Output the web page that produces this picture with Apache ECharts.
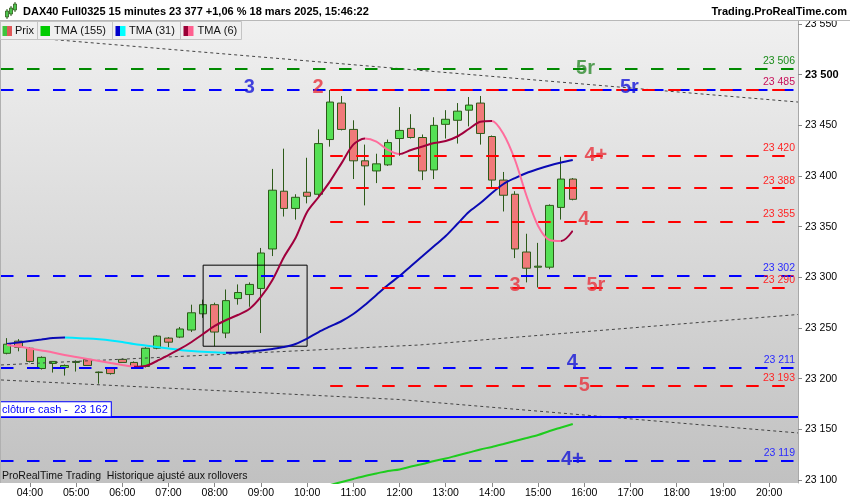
<!DOCTYPE html>
<html><head><meta charset="utf-8">
<script src="https://cdn.jsdelivr.net/npm/echarts@6/dist/echarts.min.js"></script>
<style>html,body{margin:0;padding:0;background:#fff}#c{width:850px;height:500px}</style>
</head><body><div id="c"></div>
<script>
const categories = ['03:30','03:45','04:00','04:15','04:30','04:45','05:00','05:15','05:30','05:45','06:00','06:15','06:30','06:45','07:00','07:15','07:30','07:45','08:00','08:15','08:30','08:45','09:00','09:15','09:30','09:45','10:00','10:15','10:30','10:45','11:00','11:15','11:30','11:45','12:00','12:15','12:30','12:45','13:00','13:15','13:30','13:45','14:00','14:15','14:30','14:45','15:00','15:15','15:30','15:45','16:00','16:15','16:30','16:45','17:00','17:15','17:30','17:45','18:00','18:15','18:30','18:45','19:00','19:15','19:30','19:45','20:00','20:15','20:30'];
const yTicks = [23100,23150,23200,23250,23300,23350,23400,23450,23500,23550];

const open  = [23225,23237,23230,23210,23215,23211,23216,23219,23206.5,23210,23219,23216,23212,23230,23240,23241,23248,23264,23273,23245,23279,23283,23289,23328,23385,23368,23384,23382,23436,23472,23446,23415,23405,23411,23437,23447,23438,23406,23451,23455,23465,23472,23439,23396,23382,23325,23310,23310,23369,23397];
const high  = [23240,23239,23231,23222,23217,23214,23218,23220,23207,23211,23220,23217,23231,23243,23241,23251,23273,23278,23275,23288,23293,23295,23329,23407,23427,23382,23418,23446,23485,23479,23455,23431,23422,23436,23468,23461,23441,23458,23465,23472,23478,23479,23440,23404,23385,23343,23334,23372,23419,23398];
const low   = [23224,23227,23216,23209,23206,23203,23207,23213,23195,23204,23216,23211,23211,23229,23231,23240,23246,23260,23232,23240,23273,23271,23245,23321,23360,23357,23373,23380,23429,23445,23397,23371,23393,23410,23420,23437,23396,23397,23437,23432,23449,23431,23388,23365,23319,23295,23290,23308,23357,23376];
const close = [23234,23231,23217,23221,23217,23213,23217,23213,23206,23205,23216,23212,23230,23242,23236,23249,23265,23273,23246,23277,23285,23293,23324,23386,23368,23379,23380,23432,23473,23446,23415,23410,23412,23433,23445,23438,23405,23450,23456,23464,23470,23442,23396,23381,23328,23309,23311,23371,23397,23377];

const tma6 = [23233.2,23231.7,23229.8,23227.8,23225.8,23223.3,23221.4,23219.4,23217.4,23215.4,23213.5,23211.8,23212.5,23217.4,23223.3,23229.3,23236.2,23244.1,23252,23257.9,23262.8,23268.7,23280.6,23297.4,23320.1,23338.8,23364.5,23379.3,23395,23413,23431,23437,23434,23425.7,23421.7,23425.7,23429.1,23432.6,23434.5,23439,23446.4,23453.6,23454.3,23441.4,23415.8,23380.3,23350.7,23336.8,23335.8,23346];
const tma31 = [23234.2,23235.7,23237.2,23238.6,23240.1,23240.6,23240.1,23239.6,23238.8,23237.7,23236.2,23234.2,23232.7,23231.2,23229.8,23228.3,23227.3,23226.5,23226,23225.6,23225.8,23226.8,23227.8,23229.3,23231.2,23234.2,23239.5,23246,23251.5,23256.9,23263.8,23272.7,23282.6,23292.4,23301.3,23311.2,23321,23330.9,23340.8,23352.6,23364.5,23373.3,23383.2,23392.1,23398,23403,23406.9,23410.4,23413.3,23415.8];
const tma155 = [null,null,null,null,null,null,null,null,null,null,null,null,null,null,null,null,null,null,null,null,null,null,null,null,null,null,null,null,23095,23098,23101,23103.9,23106.4,23108.9,23110.4,23113.3,23115.8,23118.7,23121.2,23124.2,23127.1,23130.1,23132.6,23135.5,23138.5,23141.4,23144.4,23148.3,23151.8,23155.3];

const levelGreen = [23506];
const levelsBlue = [23485, 23302, 23211, 23119];
const levelsRed = [23485, 23420, 23388, 23355, 23290, 23193];
const redStartIndex = 28;
const cashClose = 23162;
const lastPrice = 23377;

const trendTop  = [[-0.5, 23539], [68.5, 23473]];
const trendUp   = [[-0.5, 23213.5], [35.7, 23233.2], [68.5, 23263.3]];
const trendDown = [[-0.5, 23198.7], [34, 23179.4], [68.5, 23146.4]];
const boxIdx = [17, 26];
const boxVal = [23232, 23312];

const annotations = [
  ['5r','g',50.1,23506], ['3','b',21,23487.8], ['2','r',26.95,23487.8], ['5r','b',53.9,23487.8],
  ['4+','r',51,23420.7], ['4','r',49.95,23356.6], ['3','r',44,23292.4], ['5r','r',51,23292.4],
  ['4','b',48.96,23215.5], ['5','r',50,23193.7], ['4+','b',48.96,23120.7]
];

const FONT = "'Liberation Sans', Arial, sans-serif";
const fmt = v => String(Math.round(v)).replace(/(\d{2})(\d{3})$/, '$1 $2');
const annColor = {r:'#e8323c', b:'#1515d8', g:'#2e8b2e'};

function slopePieces(arr, up, down) {
  const pieces = []; let start = null, cur = null;
  for (let i = 0; i < arr.length - 1; i++) {
    if (arr[i] == null || arr[i+1] == null) continue;
    const c = arr[i+1] >= arr[i] ? up : down;
    if (c !== cur) { if (cur) pieces.push({gte:start, lt:i, color:cur}); start = i; cur = c; }
  }
  pieces.push({gte:start, lte:arr.length-1, color:cur});
  return pieces;
}

const dash = [12.5, 13.5];
const markData = [];
levelGreen.forEach(v => markData.push({yAxis:v, lineStyle:{color:'#008a00', type:dash, width:2},
  label:{show:true, formatter:fmt(v), color:'#1a8c1a'}}));
levelsBlue.forEach(v => markData.push({yAxis:v, lineStyle:{color:'#0000ff', type:dash, width:2},
  label:{show: v !== 23485, formatter:fmt(v), color:'#2a2aff'}}));
levelsRed.forEach(v => markData.push([{coord:[redStartIndex, v], lineStyle:{color:'#ff0000', type:dash, width:2},
  label:{show:true, formatter:fmt(v), color: v === 23485 ? '#c8105a' : '#ff2525'}}, {coord:[68.5, v]}]));
markData.push({yAxis:cashClose, lineStyle:{color:'#0000ff', type:'solid', width:2},
  label:{show:true, position:'insideStartTop', formatter:'clôture cash -  ' + fmt(cashClose), color:'#0000ff',
    backgroundColor:'#fff', borderColor:'#0000ff', borderWidth:1, padding:[2,3,1,2], fontSize:11, distance:[-1,1]}});

const dotted = {color:'#444', type:[3,3], width:1};
const bgGrad = {type:'linear', x:0, y:0, x2:0, y2:1, colorStops:[{offset:0, color:'#f0f0f0'}, {offset:1, color:'#c1c1c1'}]};

const chart = echarts.init(document.getElementById('c'));
chart.setOption({
  animation: false,
  backgroundColor: '#fff',
  textStyle: {fontFamily: FONT},
  grid: {left:1, right:52, top:21, bottom:17, show:true, backgroundColor:bgGrad, borderWidth:0},
  xAxis: [
    {type:'category', data:categories, boundaryGap:true, axisLine:{show:false, onZero:false},
     axisTick:{show:true, alignWithLabel:true, interval:(i,v)=>v.endsWith(':00'), length:4, lineStyle:{color:'#888'}},
     axisLabel:{interval:(i,v)=>v.endsWith(':00'), color:'#000', fontSize:10.5, margin:5, fontFamily:FONT},
     splitLine:{show:false}},
    {type:'value', min:-0.5, max:68.5, show:false, axisLine:{onZero:false}}
  ],
  yAxis: {type:'value', position:'right', min:23097, max:23553,
    axisLine:{show:true, onZero:false, lineStyle:{color:'#a8a8a8'}},
    axisTick:{show:true, length:4, lineStyle:{color:'#888'}, customValues:yTicks},
    axisLabel:{customValues:yTicks, color:'#000', fontSize:10.5, margin:7, fontFamily:FONT,
      formatter: v => v === 23500 ? '{b|' + fmt(v) + '}' : fmt(v),
      rich:{b:{fontWeight:'bold', fontSize:11, color:'#000', fontFamily:FONT}}},
    splitLine:{show:false}},
  visualMap: [
    {show:false, type:'piecewise', seriesIndex:2, dimension:0, pieces:slopePieces(tma31, '#0a0ab4', '#00e8ff')},
    {show:false, type:'piecewise', seriesIndex:3, dimension:0, pieces:slopePieces(tma6, '#a0003c', '#ff6c9c')}
  ],
  series: [
    {type:'candlestick', xAxisIndex:0, data: open.map((o,i)=>[o, close[i], low[i], high[i]]), barWidth:8, z:2,
     itemStyle:{color:'#55e055', color0:'#f07a7a', borderColor:'#2d5a19', borderColor0:'#2d5a19', borderWidth:1},
     markLine:{symbol:['none','none'], silent:true, data:[{yAxis:lastPrice}], lineStyle:{opacity:0},
       label:{position:'end', formatter:fmt(lastPrice), backgroundColor:'#f5c518', borderColor:'#999', borderWidth:1,
         padding:[2,2,1,2], color:'#000', fontSize:10.5, distance:5, fontFamily:FONT}}},
    {type:'line', xAxisIndex:0, data:tma155, symbol:'none', smooth:0.3, z:4, lineStyle:{color:'#1ecc1e', width:2}},
    {type:'line', xAxisIndex:0, data:tma31, symbol:'none', smooth:0.3, z:4, lineStyle:{width:2}},
    {type:'line', xAxisIndex:0, data:tma6, symbol:'none', smooth:0.3, z:4, lineStyle:{width:2}},
    {type:'line', xAxisIndex:1, data:trendTop, symbol:'none', z:3, lineStyle:dotted},
    {type:'line', xAxisIndex:1, data:trendUp, symbol:'none', z:3, lineStyle:dotted},
    {type:'line', xAxisIndex:1, data:trendDown, symbol:'none', z:3, lineStyle:dotted},
    {type:'line', xAxisIndex:1, symbol:'none', z:3, lineStyle:{color:'#000', width:1},
     data:[[boxIdx[0],boxVal[1]],[boxIdx[1],boxVal[1]],[boxIdx[1],boxVal[0]],[boxIdx[0],boxVal[0]],[boxIdx[0],boxVal[1]]]},
    {type:'line', xAxisIndex:1, data:[], z:5,
     markLine:{symbol:['none','none'], silent:true, data:markData,
       label:{position:'insideEndTop', fontSize:10.5, distance:[3,2], fontFamily:FONT}}},
    {type:'scatter', xAxisIndex:1, symbolSize:1, z:6, itemStyle:{color:'rgba(0,0,0,0)'},
     data: annotations.map(a => ({name:a[0], value:[a[2], a[3]], label:{color:annColor[a[1]]}})),
     label:{show:true, position:'inside', formatter:p=>p.name, fontSize:20, fontWeight:'bold', fontFamily:FONT}}
  ],
  graphic: [
    {type:'rect', z:90, shape:{x:0, y:0, width:850, height:20}, style:{fill:'#fff'}},
    {type:'line', z:91, shape:{x1:0, y1:20.5, x2:850, y2:20.5}, style:{stroke:'#b8b8b8', lineWidth:1}},
    {type:'line', z:91, shape:{x1:0.5, y1:21, x2:0.5, y2:483}, style:{stroke:'#b0b0b0', lineWidth:1}},
    {type:'line', z:92, shape:{x1:7, y1:9, x2:7, y2:19}, style:{stroke:'#2d5a19', lineWidth:1}},
    {type:'rect', z:93, shape:{x:5.5, y:11, width:3, height:6}, style:{fill:'#4cc44c', stroke:'#2d5a19', lineWidth:0.8}},
    {type:'line', z:92, shape:{x1:11, y1:6, x2:11, y2:16}, style:{stroke:'#2d5a19', lineWidth:1}},
    {type:'rect', z:93, shape:{x:9.5, y:8, width:3, height:6}, style:{fill:'#4cc44c', stroke:'#2d5a19', lineWidth:0.8}},
    {type:'line', z:92, shape:{x1:15, y1:2, x2:15, y2:12}, style:{stroke:'#2d5a19', lineWidth:1}},
    {type:'rect', z:93, shape:{x:13.5, y:4, width:3, height:6}, style:{fill:'#4cc44c', stroke:'#2d5a19', lineWidth:0.8}},
    {type:'text', z:93, x:23, y:12, style:{text:'DAX40 Full0325 15 minutes 23 377 +1,06 % 18 mars 2025, 15:46:22', font:'bold 11px ' + FONT, fill:'#000', align:'left', verticalAlign:'middle'}},
    {type:'text', z:93, x:847, y:12, style:{text:'Trading.ProRealTime.com', font:'bold 11px ' + FONT, fill:'#000', align:'right', verticalAlign:'middle'}},
    {type:'rect', z:94, shape:{x:0.5, y:21.5, width:241, height:18}, style:{fill:'#f0f0f0', stroke:'#c4c4c4', lineWidth:1}},
    {type:'line', z:95, shape:{x1:37.5, y1:21.5, x2:37.5, y2:39.5}, style:{stroke:'#c4c4c4', lineWidth:1}},
    {type:'line', z:95, shape:{x1:112.5, y1:21.5, x2:112.5, y2:39.5}, style:{stroke:'#c4c4c4', lineWidth:1}},
    {type:'line', z:95, shape:{x1:180.5, y1:21.5, x2:180.5, y2:39.5}, style:{stroke:'#c4c4c4', lineWidth:1}},
    {type:'rect', z:95, shape:{x:2.5, y:26, width:4.5, height:10}, style:{fill:'#3dc43d'}},
    {type:'rect', z:95, shape:{x:7, y:26, width:5, height:10}, style:{fill:'#e05858'}},
    {type:'rect', z:95, shape:{x:40.5, y:26, width:9.5, height:10}, style:{fill:'#00cc00'}},
    {type:'rect', z:95, shape:{x:115.5, y:26, width:4.5, height:10}, style:{fill:'#0000cc'}},
    {type:'rect', z:95, shape:{x:120, y:26, width:5.5, height:10}, style:{fill:'#00ffff'}},
    {type:'rect', z:95, shape:{x:183.5, y:26, width:4.5, height:10}, style:{fill:'#9a0036'}},
    {type:'rect', z:95, shape:{x:188, y:26, width:5.5, height:10}, style:{fill:'#ff6090'}},
    {type:'text', z:95, x:15, y:31, style:{text:'Prix', font:'11px ' + FONT, fill:'#111', verticalAlign:'middle'}},
    {type:'text', z:95, x:54, y:31, style:{text:'TMA (155)', font:'11px ' + FONT, fill:'#111', verticalAlign:'middle'}},
    {type:'text', z:95, x:129, y:31, style:{text:'TMA (31)', font:'11px ' + FONT, fill:'#111', verticalAlign:'middle'}},
    {type:'text', z:95, x:197.5, y:31, style:{text:'TMA (6)', font:'11px ' + FONT, fill:'#111', verticalAlign:'middle'}},
    {type:'text', z:95, x:2, y:476, style:{text:'ProRealTime Trading  Historique ajusté aux rollovers', font:'10.5px ' + FONT, fill:'#111', verticalAlign:'middle'}}
  ]
});
</script>
</body></html>
